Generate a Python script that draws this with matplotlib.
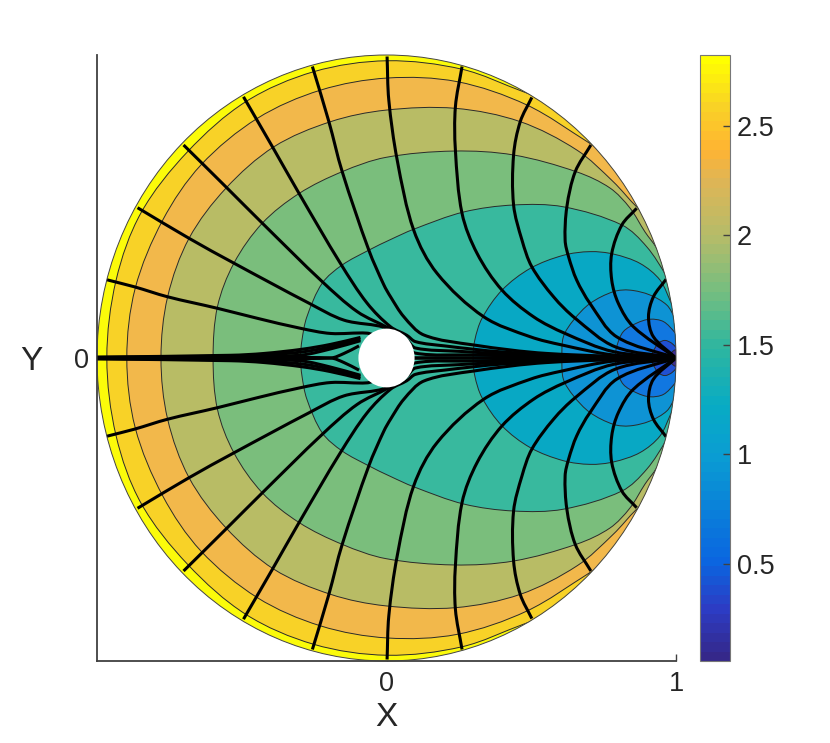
import matplotlib
matplotlib.use('Agg')
import matplotlib.pyplot as plt
import matplotlib.colors as mcol
import matplotlib.cm as cm
import numpy as np
from matplotlib.path import Path
from matplotlib.patches import PathPatch, Ellipse

plt.rcParams['font.family'] = ['Liberation Sans', 'DejaVu Sans']

# level curves, upper half only (the plot is symmetric about y=0)
c1 = [(-0.966, 0), (-0.934, 0.257), (-0.848, 0.479), (-0.687, 0.681), (-0.486, 0.846),
      (-0.251, 0.945), (0.002, 0.981), (0.261, 0.953), (0.472, 0.879), (0.70, 0.80)]
c2 = [(-0.897, 0), (-0.868, 0.23), (-0.773, 0.455), (-0.641, 0.637), (-0.446, 0.791),
      (-0.228, 0.884), (0.003, 0.924), (0.244, 0.912), (0.485, 0.835), (0.703, 0.708), (0.90, 0.59)]
c3 = [(-0.779, 0), (-0.756, 0.202), (-0.682, 0.395), (-0.555, 0.56), (-0.389, 0.697),
      (-0.193, 0.78), (-0.003, 0.818), (0.238, 0.824), (0.462, 0.78), (0.658, 0.686), (0.783, 0.582),
      (0.864, 0.499), (1.0, 0.38)]
c4 = [(-0.599, 0), (-0.584, 0.169), (-0.527, 0.313), (-0.429, 0.445), (-0.302, 0.543),
      (-0.153, 0.615), (-0.003, 0.662), (0.232, 0.683), (0.439, 0.67), (0.658, 0.614), (0.772, 0.561),
      (0.841, 0.495), (0.893, 0.416), (0.933, 0.363), (1.03, 0.2)]
c5 = [(-0.297, 0), (-0.292, 0.059), (-0.275, 0.136), (-0.222, 0.247), (-0.153, 0.307), (-0.061, 0.356),
      (0.014, 0.391), (0.094, 0.425), (0.267, 0.482), (0.439, 0.505), (0.611, 0.499), (0.813, 0.439),
      (0.899, 0.367), (0.968, 0.268), (1.05, 0.12)]
c6 = [(0.299, 0), (0.305, 0.059), (0.33, 0.131), (0.399, 0.224), (0.497, 0.296), (0.611, 0.339),
      (0.703, 0.351), (0.784, 0.343), (0.876, 0.312), (0.945, 0.257), (0.985, 0.18), (1.05, 0.08)]
c7 = [(0.606, 0), (0.611, 0.07), (0.646, 0.125), (0.703, 0.18), (0.784, 0.219), (0.841, 0.224),
      (0.91, 0.208), (0.968, 0.175), (0.997, 0.132), (1.05, 0.06)]
c8 = [(0.79, 0), (0.796, 0.04), (0.818, 0.087), (0.864, 0.115), (0.91, 0.128), (0.957, 0.12),
      (0.997, 0.083), (1.04, 0.03)]
c9 = [(0.914, 0), (0.921, 0.021), (0.939, 0.049), (0.962, 0.058), (0.985, 0.049), (1.0, 0.035), (1.03, 0.01)]
c10 = [(0.975, 0), (0.985, 0.018), (1.0, 0.027), (1.03, 0.01)]
levels = [c1, c2, c3, c4, c5, c6, c7, c8, c9, c10]

# flow lines, upper half, outer edge -> past the hole -> sink at (1, 0)
s1 = [(-1.0, 0.268), (-0.961, 0.257), (-0.871, 0.235), (-0.756, 0.202), (-0.584, 0.164), (-0.446, 0.131),
      (-0.297, 0.098), (-0.193, 0.081), (-0.067, 0.082), (-0.03, 0.07)]
s2 = [(-0.86, 0.496), (-0.682, 0.395), (-0.527, 0.313), (-0.268, 0.181), (-0.147, 0.125), (0.002, 0.098),
      (0.06, 0.05), (0.1, 0.016), (0.3, 0.01), (0.6, 0.004), (1.0, 0)]
s3 = [(-0.701, 0.703), (-0.555, 0.565), (-0.429, 0.445), (-0.222, 0.252), (-0.101, 0.153), (0.008, 0.098),
      (0.07, 0.06), (0.1, 0.033), (0.25, 0.022), (0.5, 0.01), (1.0, 0)]
s4 = [(-0.494, 0.862), (-0.394, 0.697), (-0.302, 0.543), (-0.159, 0.312), (-0.067, 0.181), (0.014, 0.103),
      (0.07, 0.075), (0.1, 0.054), (0.2, 0.04), (0.4, 0.02), (0.7, 0.006), (1.0, 0)]
s5 = [(-0.256, 0.962), (-0.199, 0.78), (-0.153, 0.615), (-0.061, 0.356), (-0.009, 0.241), (0.014, 0.202),
      (0.06, 0.136), (0.129, 0.076), (0.301, 0.043), (0.554, 0.015), (1.0, 0)]
s6 = [(0.002, 0.995), (0.008, 0.851), (0.037, 0.653), (0.094, 0.422), (0.175, 0.279), (0.336, 0.136),
      (0.497, 0.07), (0.606, 0.043), (0.784, 0.01), (1.0, 0)]
s7 = [(0.261, 0.962), (0.238, 0.829), (0.238, 0.686), (0.261, 0.477), (0.313, 0.345), (0.399, 0.224),
      (0.508, 0.136), (0.617, 0.081), (0.784, 0.021), (1.0, 0)]
s8 = [(0.502, 0.86), (0.462, 0.78), (0.439, 0.67), (0.439, 0.505), (0.468, 0.389), (0.502, 0.301),
      (0.577, 0.202), (0.652, 0.131), (0.79, 0.037), (1.0, 0)]
s9 = [(0.706, 0.703), (0.652, 0.615), (0.623, 0.499), (0.617, 0.389), (0.629, 0.334), (0.657, 0.257),
      (0.703, 0.18), (0.795, 0.07), (1.0, 0)]
s10 = [(0.864, 0.494), (0.813, 0.439), (0.778, 0.345), (0.778, 0.257), (0.801, 0.18), (0.853, 0.103), (1.0, 0)]
s11 = [(0.966, 0.26), (0.922, 0.202), (0.905, 0.136), (0.922, 0.07), (1.0, 0)]
# the thick bundle along y=0 on the left of the hole
t1 = [(-1.0, 0.003), (-0.538, 0.009), (-0.423, 0.015), (-0.291, 0.029), (-0.193, 0.045), (-0.09, 0.068)]
t2 = [(-1.0, 0.001), (-0.538, 0.003), (-0.423, 0.006), (-0.291, 0.01), (-0.193, 0.03), (-0.09, 0.057)]
t3 = [(-1.0, 0), (-0.5, 0), (-0.193, 0), (-0.147, 0.015), (-0.095, 0.04)]
t4 = [(0.09, 0), (0.5, 0), (1.0, 0)]
t5 = [(-1.0, 0.002), (-0.538, 0.006), (-0.423, 0.01), (-0.291, 0.02), (-0.193, 0.037), (-0.09, 0.062)]
flow_lines = [s1, s2, s3, s4, s5, s6, s7, s8, s9, s10, s11, t1, t2, t3, t4, t5]

hole_radius = 0.097
cbar_ticks = [0.5, 1, 1.5, 2, 2.5]
cbar_min, cbar_max = 0.057, 2.824

band_colors = ['#F8D227', '#F2B84B', '#B8BC65', '#7ABE7C', '#38B99E', '#08A8C4',
               '#0E93D4', '#1177E0', '#2050D2', '#3E2D96']
parula = mcol.LinearSegmentedColormap.from_list(
    'parula', [(0, '#35288A'), (0.08, '#2C3CC4'), (0.16, '#0A66E0'), (0.34, '#0A9ED2'), (0.42, '#08ABC4'),
               (0.52, '#2FB69F'), (0.61, '#74BE80'), (0.70, '#B3BC6A'), (0.80, '#E0B555'), (0.85, '#FFB432'),
               (0.92, '#F9D226'), (1, '#FFFF00')], N=64)


def smooth_path(pts):
    # bezier segments through the read points, tangents scaled by chord length
    p = np.array(pts, dtype=float)
    seg = np.maximum(np.hypot(*np.diff(p, axis=0).T), 1e-6)
    tang = np.zeros_like(p)
    tang[1:-1] = (p[2:] - p[:-2]) / (seg[1:] + seg[:-1])[:, None]
    tang[0] = (p[1] - p[0]) / seg[0]
    tang[-1] = (p[-1] - p[-2]) / seg[-1]
    verts = [p[0]]
    codes = [Path.MOVETO]
    for i in range(len(p) - 1):
        verts += [p[i] + tang[i] * seg[i] / 3, p[i + 1] - tang[i + 1] * seg[i] / 3, p[i + 1]]
        codes += [Path.CURVE4] * 3
    return np.array(verts), codes


W, H = 830, 743
fig = plt.figure(figsize=(W / 100, H / 100), dpi=100)
ax = fig.add_axes([97 / W, 82 / H, 579 / W, 606 / H])
ax.set_xlim(-1, 1)
ax.set_ylim(-1, 1)
ax.set_axisbelow(True)

disc = Ellipse((0, 0), 2, 2, facecolor='#FBFB0A', edgecolor='none', transform=ax.transData, zorder=1)
ax.add_patch(disc)

for i, curve in enumerate(levels):
    # mirror the upper half so the curve is a closed loop
    lower = [(x, -y) for x, y in curve[:0:-1]]
    v, c = smooth_path(lower + curve)
    patch = PathPatch(Path(np.vstack([v, v[0]]), c + [Path.LINETO]), facecolor=band_colors[i],
                      edgecolor='#2a2a2a', lw=0.7, zorder=2 + i * 0.01)
    ax.add_patch(patch)
    patch.set_clip_path(disc)

for line in flow_lines:
    for sign in (1, -1):
        v, c = smooth_path([(x, sign * y) for x, y in line])
        patch = PathPatch(Path(v, c), fill=False, edgecolor='black', lw=2.2, capstyle='butt', zorder=3)
        ax.add_patch(patch)
        patch.set_clip_path(disc)

ax.add_patch(Ellipse((0, 0), 2 * hole_radius, 2 * hole_radius, facecolor='white', edgecolor='none', zorder=4))
ax.add_patch(Ellipse((0, 0), 2, 2, fill=False, edgecolor='#444444', lw=0.7, zorder=5, clip_on=False))

for side in ('top', 'right'):
    ax.spines[side].set_visible(False)
for side in ('left', 'bottom'):
    ax.spines[side].set_linewidth(1.3)
    ax.spines[side].set_color('#404040')
ax.set_xticks([0, 1])
ax.set_xticklabels(['0', '1'])
ax.set_yticks([0])
ax.set_yticklabels(['0'])
ax.tick_params(direction='in', length=5, width=1, color='#404040', labelcolor='#262626', labelsize=19.5, pad=7)
ax.tick_params(axis='y', pad=6)
ax.set_xlabel('X', fontsize=24, color='#262626')
ax.xaxis.set_label_coords(0.5, -56 / 606, transform=ax.transAxes)
ax.xaxis.label.set_verticalalignment('center')
ax.set_ylabel('Y', fontsize=24, color='#262626', rotation=0, va='center', ha='center')
ax.yaxis.set_label_coords(-66 / 579, 0.494, transform=ax.transAxes)

cax = fig.add_axes([700 / W, 82 / H, 30 / W, 606 / H])
sm = cm.ScalarMappable(norm=mcol.Normalize(cbar_min, cbar_max), cmap=parula)
sm.set_array([])
cb = fig.colorbar(sm, cax=cax, ticks=cbar_ticks)
cb.ax.set_yticklabels(['0.5', '1', '1.5', '2', '2.5'])
cb.ax.tick_params(direction='in', length=5, width=1, color='#404040', labelcolor='#262626', labelsize=19.5, pad=5)
cb.outline.set_edgecolor('#777777')
cb.outline.set_linewidth(0.8)

plt.savefig('out.png', dpi=100)
